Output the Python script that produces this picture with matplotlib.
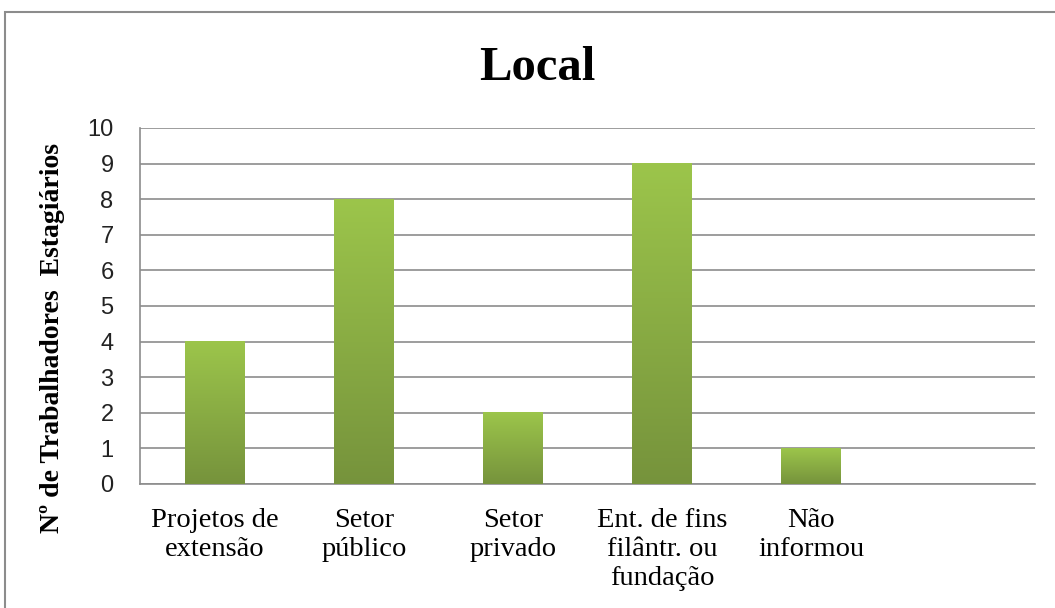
import numpy as np
import matplotlib
matplotlib.use("Agg")
import matplotlib.pyplot as plt
from matplotlib.colors import LinearSegmentedColormap
from matplotlib.patches import Rectangle

# Data
categories = ["Projetos de\nextensão", "Setor\npúblico", "Setor\nprivado",
              "Ent. de fins\nfilântr. ou\nfundação", "Não\ninformou", ""]
values = [4, 8, 2, 9, 1, 0]
yticks = list(range(0, 11))

fig = plt.figure(figsize=(10.55, 6.08), dpi=100)
ax = fig.add_axes([0.1327, 0.204, 0.8483, 0.5855])

# outer chart border (cut off at right and bottom)
fig.patches.append(Rectangle((5 / 1055, -0.1), 1.2, 1 - 12 / 608 + 0.1,
                             transform=fig.transFigure, fill=False,
                             edgecolor="#8c8c8c", linewidth=1.5))

x = np.arange(len(categories))
bars = ax.bar(x, values, width=0.4, color="none", edgecolor="none", zorder=3)

# vertical green gradient inside each bar
cmap = LinearSegmentedColormap.from_list("grn", ["#76933c", "#9cc54b"])
grad = np.linspace(0, 1, 256).reshape(-1, 1)
for b in bars:
    h = b.get_height()
    if h <= 0:
        continue
    x0 = b.get_x()
    w = b.get_width()
    ax.imshow(grad, cmap=cmap, origin="lower", aspect="auto",
              extent=(x0, x0 + w, 0, h), zorder=3)

ax.set_xlim(-0.5, len(categories) - 0.5)
ax.set_ylim(0, 10)
ax.set_yticks(yticks)
ax.set_yticklabels([str(v) for v in yticks], fontsize=17,
                   family="Liberation Sans", color="#222222")
ax.set_xticks(x)
ax.set_xticklabels(categories, fontsize=20.5, family="Liberation Serif",
                   linespacing=1.22, va="top")
ax.tick_params(axis="both", length=0)
ax.tick_params(axis="x", pad=17)
ax.tick_params(axis="y", pad=19)

ax.grid(axis="y", color="#8c8c8c", linewidth=1.2, zorder=0)
ax.set_axisbelow(True)
for s in ["top", "right"]:
    ax.spines[s].set_visible(False)
for s in ["left", "bottom"]:
    ax.spines[s].set_color("#8c8c8c")
    ax.spines[s].set_linewidth(1.2)

fig.text(0.509, 0.888, "Local", ha="center", va="center", fontsize=35,
         fontweight="bold", family="Liberation Serif")
ax.set_ylabel("Nº de Trabalhadores  Estagiários", fontsize=20,
              fontweight="bold", family="Liberation Serif")
ax.yaxis.set_label_coords(-0.084, 0.41)

fig.savefig("out.png", dpi=100)
